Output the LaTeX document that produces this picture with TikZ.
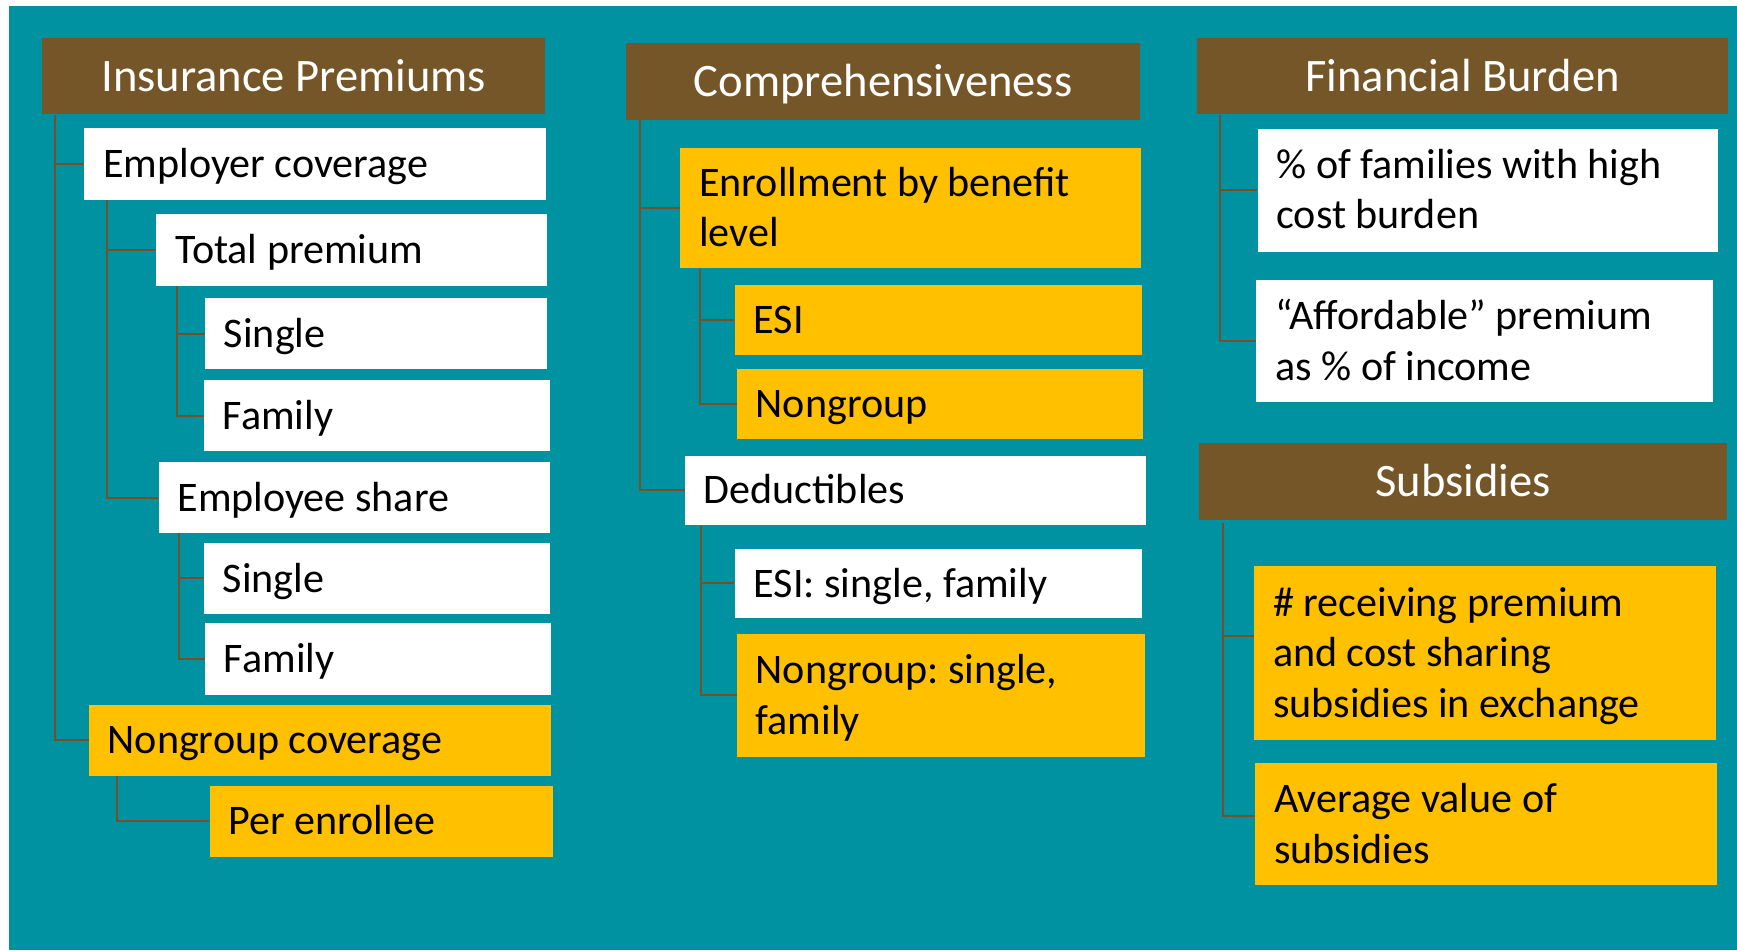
\documentclass[tikz,border=0pt]{standalone}
\usepackage{fontspec}
\setmainfont{Carlito}
\frenchspacing
\definecolor{teal}{RGB}{0,146,160}
\definecolor{hdrbrown}{RGB}{117,86,40}
\definecolor{linebrown}{RGB}{120,80,40}
\definecolor{gold}{RGB}{255,192,0}
\newcommand{\bodyfont}{\fontsize{38}{45.5}\selectfont}
\newcommand{\hdrfont}{\fontsize{42}{50}\selectfont}
\tikzset{
  base/.style={anchor=north west, inner xsep=17pt, inner ysep=0pt, align=flush left,
    font=\bodyfont, text height=24.5pt, text depth=0pt},
  wbox/.style={base, fill=white},
  ybox/.style={base, fill=gold},
  hdr/.style={anchor=north west, fill=hdrbrown, text=white, inner sep=0pt,
    font=\hdrfont, text height=27pt, text depth=0pt},
  twolines/.style={text depth=45.5pt},
  threelines/.style={text depth=91pt},
  conn/.style={draw=linebrown, line width=1.8pt},
}
\begin{document}
\begin{tikzpicture}[x=1pt,y=-1pt]
\useasboundingbox (0,0) rectangle (1568,858);
\fill[white] (0,0) rectangle (1568,858);
\fill[teal] (8,5) rectangle (1568,858);

% Insurance premiums column
\node[hdr, minimum width=454pt, minimum height=69pt] (ip) at (38,34) {Insurance Premiums};
\node[wbox, minimum width=417pt, text width=383pt, minimum height=65pt] (emp) at (76,115) {Employer coverage};
\node[wbox, minimum width=353pt, text width=319pt, minimum height=65pt] (tot) at (141,193) {Total premium};
\node[wbox, minimum width=309pt, text width=275pt, minimum height=64pt] (s1) at (185,269) {Single};
\node[wbox, minimum width=312pt, text width=278pt, minimum height=64pt] (f1) at (184,343) {Family};
\node[wbox, minimum width=353pt, text width=319pt, minimum height=64pt] (es) at (143,417) {Employee share};
\node[wbox, minimum width=312pt, text width=278pt, minimum height=64pt] (s2) at (184,490) {Single};
\node[wbox, minimum width=312pt, text width=278pt, minimum height=65pt] (f2) at (185,562) {Family};
\node[ybox, minimum width=417pt, text width=383pt, minimum height=64pt] (ng) at (80,636) {Nongroup coverage};
\node[ybox, minimum width=310pt, text width=276pt, minimum height=64pt] (pe) at (189,709) {Per enrollee};

\draw[conn] ([xshift=12pt]ip.south west) |- (emp.west);
\draw[conn] ([xshift=12pt]ip.south west) |- (ng.west);
\draw[conn] ([xshift=21pt]emp.south west) |- (tot.west);
\draw[conn] ([xshift=21pt]emp.south west) |- (es.west);
\draw[conn] ([xshift=19pt]tot.south west) |- (s1.west);
\draw[conn] ([xshift=19pt]tot.south west) |- (f1.west);
\draw[conn] ([xshift=19pt]es.south west) |- (s2.west);
\draw[conn] ([xshift=19pt]es.south west) |- (f2.west);
\draw[conn] ([xshift=26pt]ng.south west) |- (pe.west);

% Comprehensiveness column
\node[hdr, minimum width=464pt, minimum height=69pt] (comp) at (565,39) {Comprehensiveness};
\node[ybox, twolines, minimum width=416pt, text width=382pt, minimum height=109pt] (enr) at (614,133) {Enrollment by benefit\\level};
\node[ybox, minimum width=368pt, text width=334pt, minimum height=63pt] (esi) at (663,257) {ESI};
\node[ybox, minimum width=367pt, text width=333pt, minimum height=63pt] (nong) at (665,333) {Nongroup};
\node[wbox, minimum width=416pt, text width=382pt, minimum height=63pt] (ded) at (618,411) {Deductibles};
\node[wbox, minimum width=368pt, text width=334pt, minimum height=63pt] (esisf) at (663,495) {ESI: single, family};
\node[ybox, twolines, minimum width=368pt, text width=334pt, minimum height=111pt] (ngsf) at (665,572) {Nongroup: single,\\family};

\draw[conn] ([xshift=13pt]comp.south west) |- (enr.west);
\draw[conn] ([xshift=13pt]comp.south west) |- (ded.west);
\draw[conn] ([xshift=18pt]enr.south west) |- (esi.west);
\draw[conn] ([xshift=18pt]enr.south west) |- (nong.west);
\draw[conn] ([xshift=15pt]ded.south west) |- (esisf.west);
\draw[conn] ([xshift=15pt]ded.south west) |- (ngsf.west);

% Financial burden and subsidies column
\node[hdr, minimum width=480pt, minimum height=69pt] (fb) at (1080,34) {Financial Burden};
\node[wbox, twolines, minimum width=416pt, text width=382pt, minimum height=111pt] (pct) at (1135,116) {\% of families with high\\cost burden};
\node[wbox, twolines, minimum width=412pt, text width=378pt, minimum height=110pt] (aff) at (1134,253) {“Affordable” premium\\as \% of income};
\node[hdr, minimum width=477pt, minimum height=69pt] (sub) at (1082,400) {Subsidies};
\node[ybox, threelines, minimum width=417pt, text width=383pt, minimum height=157pt] (rec) at (1132,511) {\# receiving premium\\and cost sharing\\subsidies in exchange};
\node[ybox, twolines, minimum width=417pt, text width=383pt, minimum height=110pt] (avg) at (1133,689) {Average value of\\subsidies};

\draw[conn] ([xshift=21pt]fb.south west) |- (pct.west);
\draw[conn] ([xshift=21pt]fb.south west) |- (aff.west);
\draw[conn] ([xshift=22pt,yshift=-3pt]sub.south west) |- ([yshift=16pt]rec.west);
\draw[conn] ([xshift=22pt,yshift=-3pt]sub.south west) |- ([yshift=8pt]avg.west);
\end{tikzpicture}
\end{document}
